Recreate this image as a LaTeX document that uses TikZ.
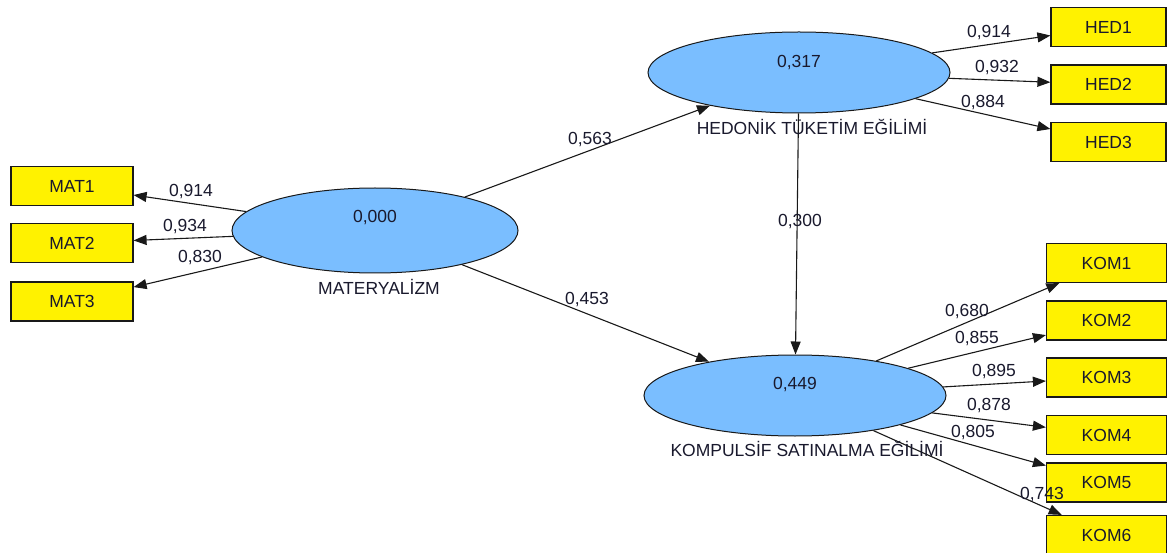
\documentclass[tikz,border=0pt]{standalone}
\usepackage{fontspec}
\setmainfont{Liberation Sans}
\usetikzlibrary{shapes.geometric,arrows.meta}
\definecolor{lvblue}{RGB}{122,190,255}
\definecolor{txt}{RGB}{25,25,45}
\tikzset{
  every node/.style={font=\fontsize{17.5}{20}\selectfont, text=txt},
  lv/.style={ellipse, draw=black!90, line width=1pt, fill=lvblue, inner sep=0pt},
  ind/.style={rectangle, draw=black!90, line width=1.2pt, fill=yellow, inner sep=0pt, minimum height=39pt},
  arr/.style={draw=black!90, line width=1.1pt, -{Triangle[length=13pt,width=10pt]}},
  coef/.style={inner sep=0pt},
}
\begin{document}
\begin{tikzpicture}[x=1pt,y=-1pt]
\useasboundingbox (0,0) rectangle (1167,553);
\clip (0,0) rectangle (1167,553);
\fill[white] (0,0) rectangle (1167,553);
% latent variables
\node[lv, minimum width=286pt, minimum height=85pt] (MAT) at (375,230.5) {};
\node[lv, minimum width=302pt, minimum height=81pt] (HED) at (799,72.5) {};
\node[lv, minimum width=302pt, minimum height=81pt] (KOM) at (795,395.5) {};
\node[coef] (MATv) at (375,218) {0,000};
\node[coef] (HEDv) at (799,63) {0,317};
\node[coef] (KOMv) at (795,385) {0,449};
\node[coef] (MATl) at (379,287) {MATERYALİZM};
% indicators
\node[ind, minimum width=122pt] (MAT1) at (72,186) {MAT1};
\node[ind, minimum width=122pt] (MAT2) at (72,243) {MAT2};
\node[ind, minimum width=122pt] (MAT3) at (72,301.5) {MAT3};
\node[ind, minimum width=115pt] (HED1) at (1108.5,27) {HED1};
\node[ind, minimum width=115pt] (HED2) at (1108.5,84.5) {HED2};
\node[ind, minimum width=115pt] (HED3) at (1108.5,142) {HED3};
\node[ind, minimum width=120pt] (KOM1) at (1106.5,263) {KOM1};
\node[ind, minimum width=120pt] (KOM2) at (1106.5,320.5) {KOM2};
\node[ind, minimum width=120pt] (KOM3) at (1106.5,377.5) {KOM3};
\node[ind, minimum width=120pt] (KOM4) at (1106.5,435) {KOM4};
\node[ind, minimum width=120pt] (KOM5) at (1106.5,482.5) {KOM5};
\node[ind, minimum width=120pt] (KOM6) at (1106.5,535) {KOM6};
% connectors
\draw[arr] (MAT) -- (MAT1);
\draw[arr] (MAT) -- (MAT2);
\draw[arr] (MAT) -- (MAT3);
\draw[arr] (MAT) -- (HED);
\draw[arr] (MAT) -- (KOM);
\draw[arr] (HED) -- (KOM);
\draw[arr] (HED) -- (HED1);
\draw[arr] (HED) -- (HED2);
\draw[arr] (HED) -- (HED3);
\draw[arr] (KOM) -- (KOM1);
\draw[arr] (KOM) -- (KOM2);
\draw[arr] (KOM) -- (KOM3);
\draw[arr] (KOM) -- (KOM4);
\draw[arr] (KOM) -- (KOM5);
\draw[arr] (KOM) -- (KOM6);
% labels under ellipses
\node[coef] (HEDl) at (812,127) {HEDONİK TÜKETİM EĞİLİMİ};
\node[coef] (KOMl) at (807,449) {KOMPULSİF SATINALMA EĞİLİMİ};
% coefficients
\node[coef] (c1) at (191,192) {0,914};
\node[coef] (c2) at (185,227) {0,934};
\node[coef] (c3) at (200,258) {0,830};
\node[coef] (c4) at (590,140) {0,563};
\node[coef] (c5) at (587,300) {0,453};
\node[coef] (c6) at (800,222) {0,300};
\node[coef] (c7) at (989,33) {0,914};
\node[coef] (c8) at (997,68) {0,932};
\node[coef] (c9) at (983,103) {0,884};
\node[coef] (c10) at (967,312) {0,680};
\node[coef] (c11) at (977,339) {0,855};
\node[coef] (c12) at (994,372) {0,895};
\node[coef] (c13) at (989,406) {0,878};
\node[coef] (c14) at (973,433) {0,805};
\node[coef] (c15) at (1042,495) {0,743};
\end{tikzpicture}
\end{document}
